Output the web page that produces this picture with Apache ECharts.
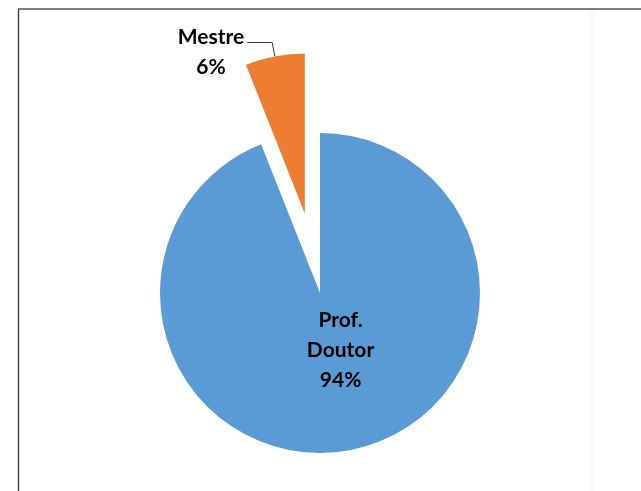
<!DOCTYPE html>
<html>
<head>
<meta charset="utf-8">
<script src="https://cdn.jsdelivr.net/npm/echarts@6/dist/echarts.min.js"></script>
<style>
  html, body { margin: 0; padding: 0; background: #fff; }
  #main { width: 641px; height: 491px; }
</style>
</head>
<body>
<div id="main"></div>
<script>
var categories = ['Prof.\nDoutor', 'Mestre'];
var values = [94, 6];
var colors = ['#5B9BD5', '#ED7D31'];

var chart = echarts.init(document.getElementById('main'));

var pieData = categories.map(function (name, i) {
  return {
    name: name,
    value: values[i],
    selected: i === 1,
    itemStyle: { color: colors[i] },
    label: i === 0
      ? { position: 'inside' }
      : { position: 'outside', padding: [20, 0, 0, 0] },
    labelLine: { show: i === 1 }
  };
});

var option = {
  backgroundColor: '#fff',
  animation: false,
  graphic: [
    // moldura do gráfico
    { type: 'line', shape: { x1: 18.5, y1: 9, x2: 18.5, y2: 491 }, style: { stroke: '#444', lineWidth: 1.5 } },
    { type: 'line', shape: { x1: 18, y1: 9, x2: 641, y2: 9 }, style: { stroke: '#555', lineWidth: 1.5 } },
    { type: 'line', shape: { x1: 592, y1: 10, x2: 592, y2: 491 }, style: { stroke: '#f9fbfe', lineWidth: 5 } }
  ],
  series: [
    {
      type: 'pie',
      center: [320, 293],
      radius: 160,
      startAngle: 90,
      clockwise: true,
      selectedMode: 'single',
      selectedOffset: 81,
      avoidLabelOverlap: false,
      label: {
        formatter: '{c|{b}}\n{c|{d}%}',
        fontFamily: 'Lato',
        fontWeight: 'bold',
        fontSize: 21,
        color: '#000',
        distanceToLabelLine: 3,
        rich: {
          c: {
            fontFamily: 'Lato',
            fontWeight: 'bold',
            fontSize: 21,
            lineHeight: 30,
            color: '#000',
            align: 'center'
          }
        }
      },
      labelLine: {
        length: 14,
        length2: 25,
        lineStyle: { color: '#333', width: 1 }
      },
      labelLayout: function (params) {
        if (params.dataIndex === 0) {
          return { dx: 5, dy: -24 };
        }
      },
      emphasis: { disabled: true },
      data: pieData
    }
  ]
};

chart.setOption(option);
</script>
</body>
</html>
